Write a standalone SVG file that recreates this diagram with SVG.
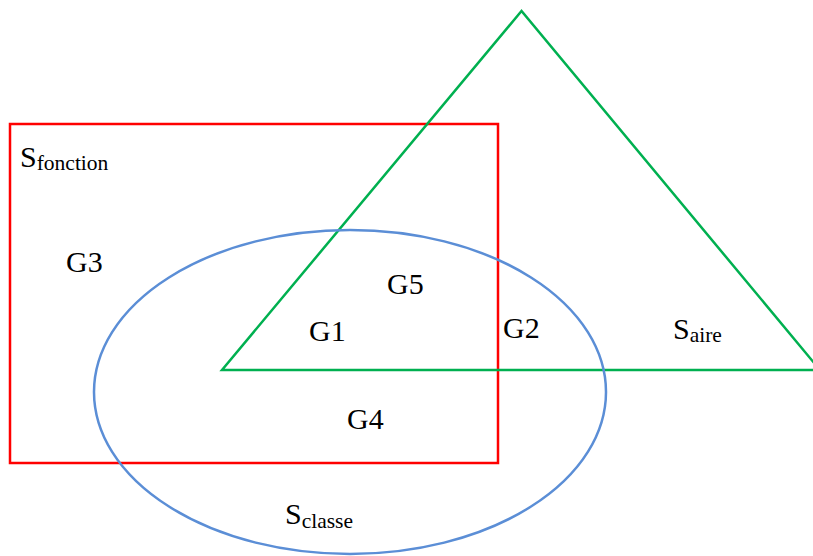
<svg xmlns="http://www.w3.org/2000/svg" width="813" height="556" viewBox="0 0 813 556">
<style>
.t{font-family:"Liberation Serif","Times New Roman",serif;font-size:30px;fill:#000}
.s{font-size:21.5px}
.sh{fill:none;stroke-width:2.5}
</style>
<rect width="813" height="556" fill="#fff"/>
<g id="connectors"></g>
<g id="sfonction">
<rect class="sh" x="10" y="124" width="488" height="339" stroke="#FF0000"/>
</g>
<g id="saire">
<polygon class="sh" points="521.5,11 222,370 820,370" stroke="#00B050"/>
</g>
<g id="sclasse">
<ellipse class="sh" cx="350" cy="392" rx="256" ry="162" stroke="#5B8ED6"/>
</g>
<g id="labels">
<text class="t" x="20" y="167">S<tspan class="s" dy="3">fonction</tspan></text>
<text class="t" x="66" y="272">G3</text>
<text class="t" x="387" y="294">G5</text>
<text class="t" x="309" y="341">G1</text>
<text class="t" x="503" y="338">G2</text>
<text class="t" x="673" y="339">S<tspan class="s" dy="3">aire</tspan></text>
<text class="t" x="347" y="429">G4</text>
<text class="t" x="285" y="524">S<tspan class="s" dy="4">classe</tspan></text>
</g>
</svg>
